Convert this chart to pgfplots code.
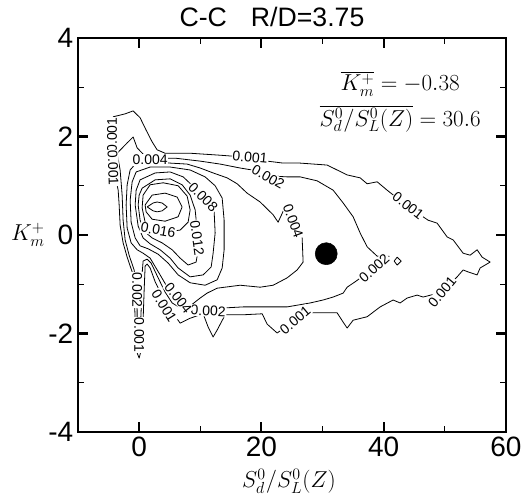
\documentclass[border=0pt]{standalone}
\usepackage[no-math]{fontspec}
\setmainfont{Liberation Sans}
\usepackage{pgfplots}
\pgfplotsset{compat=1.18}
\tikzset{
  contour/.style={black, line width=0.6pt, mark=none, line join=round},
  lab/.style={font=\fontsize{10.5}{12}\selectfont, fill=white, inner sep=0.6pt},
}
\begin{document}
\begin{tikzpicture}
\useasboundingbox (0,0) rectangle (394.5pt,374.25pt);
\begin{axis}[
  at={(58.5pt,50.25pt)}, anchor=south west,
  scale only axis, width=321pt, height=295.5pt,
  xmin=-10, xmax=60, ymin=-4, ymax=4,
  xtick={0,20,40,60}, minor xtick={10,30,50},
  ytick={-4,-2,0,2,4}, minor ytick={-3,-1,1,3},
  tick align=inside,
  major tick length=7.5pt, minor tick length=4.5pt,
  axis line style={line width=1.8pt},
  every major tick/.style={line width=1.6pt, black},
  every minor tick/.style={line width=0.8pt, black},
  ticklabel style={font=\fontsize{21}{24}\selectfont},
  /pgf/number format/assume math mode=true,
]
% 0.001
\addplot[contour] coordinates {
(-4.25,2.40) (-2.29,2.46) (-0.98,2.52) (0.16,2.38) (1.14,2.13) (2.13,1.89) (2.94,1.73)
(4.25,1.66) (5.89,1.66) (8.34,1.66) (10.79,1.64) (13.25,1.62) (15.37,1.60) (18.15,1.56)
(20.94,1.50) (23.55,1.46) (26.33,1.46) (30.75,1.42) (32.38,1.32) (34.02,1.22) (36.15,1.16)
(37.29,1.04) (38.93,1.08) (40.56,0.91) (43.83,0.59) (47.27,0.30) (48.74,0.24) (50.38,-0.04)
(51.36,-0.10) (52.99,-0.37) (54.14,-0.41) (55.28,-0.30) (56.10,-0.45) (57.41,-0.55)
(55.77,-0.67) (55.28,-0.81) (53.81,-0.75) (52.99,-0.71) (52.01,-0.85) (49.56,-1.16)
(46.45,-1.26) (45.47,-1.22) (43.83,-1.28) (42.69,-1.38) (41.54,-1.32) (39.42,-1.46)
(37.29,-1.66) (35.00,-1.73) (34.02,-1.89) (33.37,-1.77) (32.38,-1.58) (30.09,-1.58)
(27.97,-1.58) (25.52,-1.73) (22.57,-1.99) (20.94,-1.81) (20.12,-1.60) (17.01,-1.62)
(14.07,-1.62) (12.76,-1.93) (12.10,-2.07) (11.29,-1.87) (10.47,-1.60) (8.34,-1.69)
(6.71,-1.79) (4.25,-1.36) (2.62,-0.95) (1.80,-0.67) (1.31,-0.59) (0.98,-0.63) (0.82,-1.12)
(0.65,-1.73) (0.33,-2.34) (0,-2.50) (-0.49,-2.34) (-0.65,-1.73) (-0.82,-1.12) (-1.14,-0.75)
(-1.96,-0.45) (-2.62,-0.16) (-3.11,0.20) (-3.27,0.61) (-3.43,0.91) (-4.09,1.32) (-4.42,1.73)
(-4.42,2.13) (-4.25,2.40)};
% 0.002
\addplot[contour] coordinates {
(-3.60,1.66) (-1.96,1.87) (-0.98,1.99) (-0.33,1.77) (0.98,1.60) (3.43,1.56) (5.89,1.56)
(9.98,1.50) (13.25,1.44) (16.52,1.36) (18.48,1.32) (21.43,1.20) (24.21,1.18) (26.33,1.18)
(29.11,1.10) (31.73,0.91) (33.37,0.65) (35.00,0.37) (36.15,0.04) (37.29,-0.24) (38.93,-0.43)
(40.89,-0.43) (38.44,-0.67) (35.33,-0.95) (34.02,-1.06) (33.37,-1.18) (31.73,-1.26)
(30.09,-1.32) (27.97,-1.38) (24.21,-1.46) (19.79,-1.46) (17.01,-1.46) (14.07,-1.48)
(11.61,-1.52) (9.49,-1.56) (7.52,-1.54) (5.40,-1.38) (4.25,-1.16) (3.11,-0.87) (1.96,-0.57)
(1.31,-0.49) (0.65,-0.53) (0.41,-0.91) (0.33,-1.52) (0.16,-2.03) (0,-2.23) (-0.16,-2.23)
(-0.33,-2.03) (-0.33,-1.52) (-0.49,-1.02) (-0.82,-0.71) (-1.64,-0.41) (-2.29,-0.10)
(-2.62,0.30) (-2.78,0.81) (-3.11,1.32) (-3.60,1.66)};
\addplot[contour] coordinates {(41.71,-0.53) (42.20,-0.45) (42.86,-0.53) (42.20,-0.61) (41.71,-0.53)};
% 0.004
\addplot[contour] coordinates {
(1.80,1.50) (5.07,1.46) (7.85,1.44) (9.98,1.36) (12.10,1.26) (14.39,1.16) (16.03,1.04)
(17.66,0.85) (19.79,0.67) (21.92,0.41) (22.73,0.26) (23.88,0.57) (25.19,0.30) (26.66,-0.06)
(26.82,-0.55) (25.84,-0.71) (24.21,-0.87) (21.92,-1.02) (19.79,-1.06) (16.52,-1.02)
(12.76,-1.08) (11.12,-1.18) (9.98,-1.28) (8.34,-1.44) (6.71,-1.38) (5.07,-1.16) (3.43,-0.81)
(1.80,-0.47) (0.65,-0.37) (-0.33,-0.30) (-1.31,-0.16) (-1.96,0.14) (-2.13,0.61) (-1.96,1.02)
(-1.47,1.32) (-0.49,1.46) (1.80,1.50)};
% 0.006
\addplot[contour] coordinates {
(-0.49,1.28) (1.80,1.38) (5.07,1.38) (8.34,1.32) (10.79,1.18) (12.43,1.00) (13.58,0.75)
(13.90,0.30) (13.90,-0.30) (13.58,-0.67) (12.76,-0.91) (10.79,-1.02) (8.34,-0.97) (6.38,-0.81)
(4.74,-0.57) (3.11,-0.39) (1.47,-0.28) (0.16,-0.22) (-0.65,-0.06) (-1.31,0.26) (-1.47,0.71)
(-1.14,1.08) (-0.49,1.28)};
% 0.008
\addplot[contour] coordinates {
(0.16,1.12) (2.62,1.26) (5.07,1.28) (7.20,1.18) (9.16,0.95) (10.79,0.75) (12.27,0.47)
(12.43,0.04) (12.10,-0.37) (11.78,-0.65) (10.47,-0.81) (8.34,-0.85) (6.38,-0.67) (5.07,-0.47)
(3.43,-0.30) (1.80,-0.18) (0.65,-0.06) (-0.16,0.18) (-0.65,0.61) (-0.49,0.91) (0.16,1.12)};
% 0.012
\addplot[contour] coordinates {
(0.49,0.95) (2.62,1.12) (5.07,1.14) (7.03,1.02) (8.34,0.81) (9.16,0.51) (9.49,0.10)
(9.65,-0.30) (9.32,-0.55) (8.01,-0.61) (6.71,-0.47) (5.40,-0.30) (3.76,-0.16) (2.13,-0.06)
(0.98,0.06) (0.16,0.30) (-0.16,0.61) (0,0.81) (0.49,0.95)};
% 0.016
\addplot[contour] coordinates {
(0.65,0.81) (1.80,1.02) (3.93,1.06) (6.38,1.00) (7.85,0.79) (8.34,0.51) (8.01,0.26)
(6.71,0.10) (4.25,0.06) (2.13,0.12) (0.98,0.26) (0.49,0.55) (0.65,0.81)};
% 0.020
\addplot[contour] coordinates {
(0.98,0.61) (2.13,0.81) (4.25,0.85) (6.22,0.77) (7.03,0.57) (6.38,0.37) (4.25,0.28)
(2.13,0.32) (1.14,0.47) (0.98,0.61)};
% inner
\addplot[contour] coordinates {
(1.31,0.57) (2.29,0.65) (2.94,0.67) (3.76,0.65) (4.58,0.57) (3.76,0.49) (2.94,0.47) (2.29,0.49) (1.31,0.57)};
% labels
\node[lab, rotate=90] at (axis cs:-4.42,2.03) {0.001};
\node[lab, rotate=-88] at (axis cs:-4.25,1.36) {0.001};
\node[lab] at (axis cs:1.80,1.52) {0.004};
\node[lab, rotate=-5] at (axis cs:18.15,1.58) {0.001};
\node[lab, rotate=-30] at (axis cs:21.10,1.18) {0.002};
\node[lab, rotate=-70] at (axis cs:25.19,0.28) {0.004};
\node[lab, rotate=-45] at (axis cs:10.47,0.77) {0.008};
\node[lab, rotate=-82] at (axis cs:9.49,-0.06) {0.012};
\node[lab, rotate=-10] at (axis cs:3.11,0.10) {0.016};
\node[lab, rotate=-38] at (axis cs:44.00,0.59) {0.001};
\node[lab, rotate=42] at (axis cs:38.44,-0.67) {0.002};
\node[lab, rotate=50] at (axis cs:49.56,-1.16) {0.001};
\node[lab, rotate=40] at (axis cs:25.52,-1.73) {0.001};
\node[lab, rotate=-3] at (axis cs:11.29,-1.54) {0.002};
\node[lab, rotate=-52] at (axis cs:6.38,-1.28) {0.004};
\node[lab, rotate=-58] at (axis cs:4.09,-1.44) {0.001};
\node[lab, rotate=-90] at (axis cs:-0.33,-1.12) {0.002};
\node[lab, rotate=-90] at (axis cs:0,-2.03) {0.001};
% mean point
\addplot[only marks, mark=*, mark size=8.25pt, black] coordinates {(30.6,-0.38)};
\node[align=center, font=\fontsize{16.5}{27}\selectfont] at (axis cs:42.69,2.70)
  {$\overline{K_m^{+}} = -0.38$\\ $\overline{S_d^0/S_L^0(Z)} = 30.6$};
\end{axis}
\node[font=\fontsize{20}{24}\selectfont] at (204pt,361.5pt) {C-C\hspace{0.9em}R/D=3.75};
\node[font=\fontsize{16.5}{20}\selectfont] at (21pt,198pt) {$K_m^{+}$};
\node[font=\fontsize{16.5}{20}\selectfont] at (216.75pt,13.5pt) {$S_d^0/S_L^0(Z)$};
\end{tikzpicture}
\end{document}
